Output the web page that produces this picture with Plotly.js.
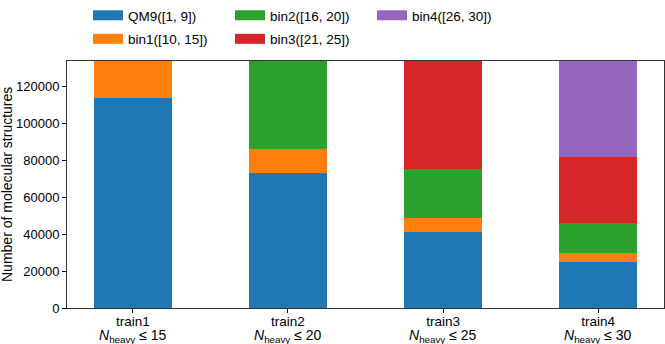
<!DOCTYPE html>
<html>
<head>
<meta charset="utf-8">
<script src="https://cdn.plot.ly/plotly-3.0.1.min.js"></script>
<style>html,body{margin:0;padding:0;background:#fff;}#chart{width:665px;height:344px;}</style>
</head>
<body>
<div id="chart"></div>
<script>
const categories = ["train1", "train2", "train3", "train4"];
const limitLabels = [
  "<i>N</i><sub>heavy</sub> ≤ 15",
  "<i>N</i><sub>heavy</sub> ≤ 20",
  "<i>N</i><sub>heavy</sub> ≤ 25",
  "<i>N</i><sub>heavy</sub> ≤ 30"
];
const seriesNames = ["QM9([1, 9])", "bin1([10, 15])", "bin2([16, 20])", "bin3([21, 25])", "bin4([26, 30])"];
const qm9  = [113800, 73400, 41100, 25000];
const bin1 = [20085, 12850, 7500, 4550];
const bin2 = [0, 47635, 27000, 16450];
const bin3 = [0, 0, 58285, 35750];
const bin4 = [0, 0, 0, 52135];
const yTicks = [0, 20000, 40000, 60000, 80000, 100000, 120000];
const yTitle = "Number of molecular structures";

const colors = ["#1f77b4", "#ff7f0e", "#2ca02c", "#d62728", "#9467bd"];
const legendIds = ["legend", "legend", "legend2", "legend2", "legend3"];
const series = [qm9, bin1, bin2, bin3, bin4];

const font = "Liberation Sans, Arial, sans-serif";
const traces = series.map((vals, i) => ({
  type: "bar",
  name: seriesNames[i],
  x: categories,
  y: vals,
  marker: {color: colors[i], line: {width: 0}},
  showlegend: false,
  legendgroup: "g" + i,
  hoverinfo: "skip"
}));
// legend-only entries (wide patch like the reference legend)
series.forEach((vals, i) => {
  traces.push({
    type: "scatter",
    mode: "lines",
    name: seriesNames[i],
    x: [null], y: [null],
    line: {color: colors[i], width: 10},
    legend: legendIds[i],
    legendgroup: "g" + i,
    showlegend: true,
    hoverinfo: "skip"
  });
});

const legendBase = {
  orientation: "v",
  xref: "container", yref: "container",
  xanchor: "left", yanchor: "top",
  y: 1.009,
  bgcolor: "rgba(0,0,0,0)",
  borderwidth: 0,
  tracegroupgap: 3,
  font: {family: font, size: 13.5, color: "#000"}
};

const annotations = categories.map((c, i) => ({
  xref: "x", yref: "paper",
  x: c, y: -0.073,
  xanchor: "center", yanchor: "top",
  text: limitLabels[i],
  showarrow: false,
  borderpad: 0,
  font: {family: font, size: 14, color: "#000"}
}));
annotations.push({
  xref: "paper", yref: "paper",
  x: -67 / 597, y: 0.5,
  xshift: 6.5,
  xanchor: "center", yanchor: "middle",
  text: yTitle,
  textangle: -90,
  showarrow: false,
  borderpad: 0,
  font: {family: font, size: 14, color: "#000"}
});

const layout = {
  width: 665, height: 344,
  margin: {l: 67, r: 1, t: 61, b: 36, autoexpand: false},
  paper_bgcolor: "#fff", plot_bgcolor: "#fff",
  barmode: "stack",
  bargap: 0.5,
  font: {family: font, size: 13, color: "#000"},
  showlegend: true,
  legend: Object.assign({}, legendBase, {x: 88 / 665}),
  legend2: Object.assign({}, legendBase, {x: 230 / 665}),
  legend3: Object.assign({}, legendBase, {x: 372 / 665}),
  annotations: annotations,
  xaxis: {
    range: [-0.425, 3.425],
    tickmode: "array",
    tickvals: categories,
    ticktext: categories,
    ticks: "outside", ticklen: 4, tickwidth: 1, tickcolor: "#000",
    ticklabelstandoff: -3,
    showline: true, linecolor: "#333", linewidth: 1, mirror: true,
    showgrid: false, zeroline: false,
    automargin: false,
    tickfont: {family: font, size: 13.5, color: "#000"}
  },
  yaxis: {
    range: [0, 133885],
    tickmode: "array",
    tickvals: yTicks,
    ticktext: yTicks.map(v => String(v)),
    ticks: "outside", ticklen: 4, tickwidth: 1, tickcolor: "#000",
    showline: true, linecolor: "#333", linewidth: 1, mirror: true,
    showgrid: false, zeroline: false,
    automargin: false,
    tickfont: {family: font, size: 13, color: "#000"}
  }
};

Plotly.newPlot("chart", traces, layout, {staticPlot: true, displayModeBar: false});
</script>
</body>
</html>
